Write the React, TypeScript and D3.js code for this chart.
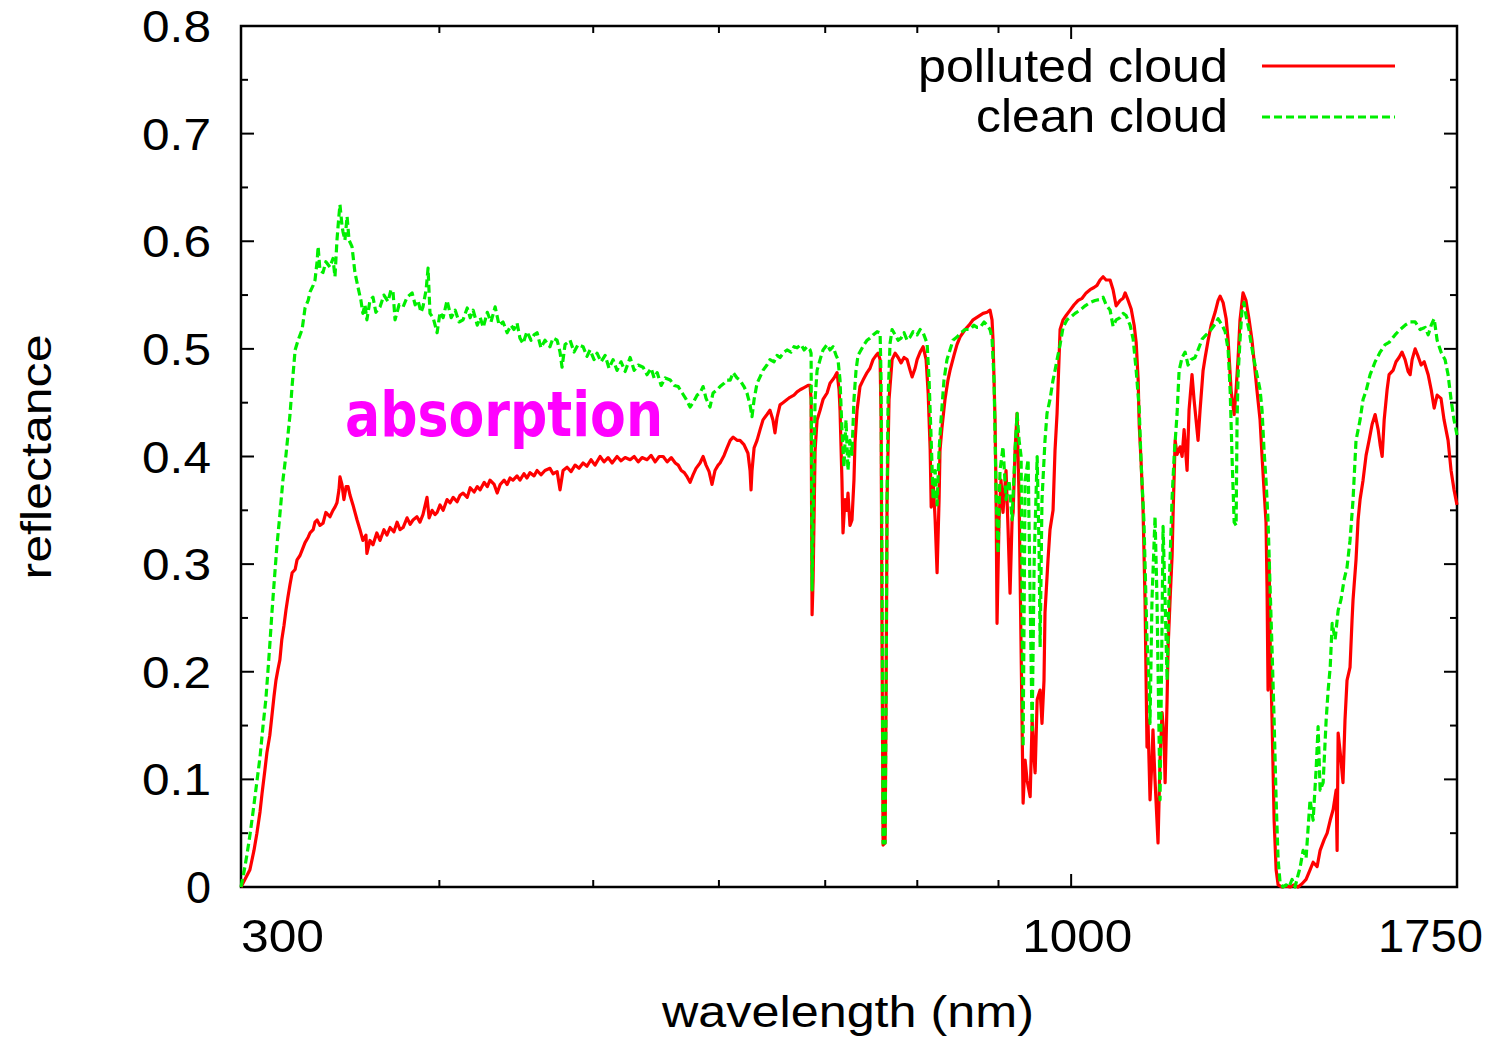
import React from "react";
import * as d3 from "d3";

// x: wavelength (nm), y: reflectance
const xMajorTicks = [300, 1000, 1750];
const xMinorTicks = [400, 500, 600, 700, 800, 900];
const yMajorTicks = [0, 0.1, 0.2, 0.3, 0.4, 0.5, 0.6, 0.7, 0.8];
const yMinorTicks = [0.05, 0.15, 0.25, 0.35, 0.45, 0.55, 0.65, 0.75];
const seriesNames = ["polluted cloud", "clean cloud"];
const annotation = "absorption";

const polluted: [number, number][] = [
  [300.0,0],[301.7,.007],[303.9,.016],[305.7,.034],[307.0,.050],[308.4,.070],[309.3,.087],[310.6,.109],[311.5,.125],[312.8,.141],[313.7,.158],[314.7,.177],[315.6,.192],[316.5,.202],[317.4,.211],[318.3,.230],[319.3,.243],[320.2,.257],[321.1,.269],[322.1,.281],[323.1,.292],[324.5,.295],[325.4,.304],[326.8,.308],[327.8,.313],[329.2,.320],[330.7,.325],[331.6,.329],[333.1,.332],[334.0,.339],[335.0,.341],[336.4,.336],[337.9,.338],[339.3,.348],[341.3,.344],[342.8,.350],[343.8,.353],[344.8,.357],[345.8,.369],[346.3,.381],[347.3,.374],[348.3,.360],[349.4,.372],[350.4,.372],[351.4,.364],[352.9,.355],[355.0,.341],[356.5,.332],[358.0,.322],[359.6,.327],[360.1,.310],[361.7,.322],[363.3,.318],[365.3,.329],[367.0,.322],[369.1,.332],[370.7,.327],[372.4,.334],[374.5,.330],[376.2,.339],[377.8,.332],[379.5,.334],[381.7,.343],[383.4,.337],[385.0,.341],[387.2,.344],[388.9,.339],[390.6,.346],[392.9,.362],[394.1,.343],[395.8,.350],[397.5,.346],[398.7,.348],[400.4,.355],[402.2,.350],[404.5,.360],[406.3,.357],[408.1,.362],[410.4,.358],[412.2,.364],[414.0,.366],[416.5,.362],[418.3,.371],[420.7,.367],[422.6,.372],[424.4,.369],[426.9,.376],[428.8,.372],[430.5,.378],[433.1,.374],[435.0,.366],[436.9,.374],[439.4,.378],[441.3,.374],[443.2,.380],[445.1,.378],[447.7,.382],[449.6,.378],[452.2,.384],[454.2,.380],[456.2,.385],[458.9,.382],[460.9,.387],[463.5,.383],[466.2,.387],[469.6,.389],[471.7,.384],[474.5,.386],[476.5,.369],[478.6,.387],[481.4,.390],[484.2,.386],[487.0,.392],[489.8,.389],[492.7,.394],[495.5,.391],[498.4,.397],[501.3,.392],[505.0,.400],[507.9,.395],[510.9,.399],[513.9,.394],[517.6,.400],[520.6,.396],[523.7,.399],[527.5,.397],[530.6,.400],[533.7,.395],[536.7,.399],[540.6,.397],[543.8,.401],[547.0,.395],[550.2,.400],[553.4,.400],[556.6,.395],[559.9,.399],[563.2,.394],[565.6,.392],[568.1,.387],[570.6,.385],[573.0,.381],[575.4,.376],[577.9,.383],[580.4,.389],[583.8,.394],[586.4,.400],[588.9,.392],[591.5,.386],[594.0,.374],[596.6,.387],[599.3,.392],[601.0,.394],[604.5,.401],[607.1,.408],[609.9,.415],[612.5,.418],[616.0,.415],[618.6,.415],[622.2,.411],[625.8,.403],[627.7,.387],[628.6,.369],[629.5,.387],[631.4,.408],[634.1,.415],[636.9,.425],[639.6,.434],[643.3,.439],[646.1,.443],[648.9,.434],[650.8,.422],[652.7,.436],[655.6,.448],[658.4,.450],[662.3,.453],[665.1,.455],[669.0,.457],[672.0,.460],[675.0,.462],[678.9,.464],[682.8,.466],[684.8,.466],[685.8,.453],[686.8,.253],[687.8,.285],[689.8,.406],[691.8,.434],[694.8,.443],[697.8,.453],[701.9,.459],[704.9,.468],[709.0,.473],[712.1,.478],[714.2,.462],[715.2,.443],[717.2,.378],[718.3,.329],[720.3,.360],[722.4,.350],[723.5,.366],[725.6,.336],[727.7,.341],[729.8,.378],[730.9,.413],[733.1,.443],[736.2,.465],[739.5,.471],[743.8,.478],[747.0,.482],[750.3,.490],[753.6,.494],[755.8,.496],[758.0,.490],[759.1,.434],[760.2,.220],[761.3,.039],[763.5,.041],[764.6,.174],[765.7,.360],[767.9,.453],[771.3,.490],[774.7,.496],[778.1,.492],[781.4,.487],[784.8,.492],[788.3,.490],[791.7,.480],[794.0,.474],[797.5,.482],[799.8,.490],[803.3,.497],[806.8,.502],[810.3,.490],[812.7,.459],[815.1,.406],[816.3,.353],[818.6,.378],[821.0,.341],[823.3,.292],[825.7,.360],[826.8,.406],[829.2,.427],[832.8,.453],[836.4,.471],[838.9,.480],[843.7,.494],[847.4,.504],[851.1,.511],[857.4,.518],[862.4,.522],[867.4,.527],[873.7,.530],[880.1,.533],[885.2,.534],[889.0,.536],[891.6,.527],[892.9,.508],[895.5,.434],[896.8,.366],[898.1,.245],[900.7,.341],[903.3,.378],[905.9,.348],[909.9,.387],[912.6,.332],[915.2,.273],[917.9,.341],[919.3,.348],[921.9,.406],[924.6,.440],[927.3,.360],[930.0,.220],[932.7,.078],[935.4,.118],[938.1,.099],[942.3,.084],[945.0,.155],[947.8,.118],[949.1,.106],[951.9,.174],[956.0,.183],[958.6,.152],[961.4,.192],[962.8,.255],[967.0,.304],[969.8,.332],[974.1,.350],[976.9,.406],[979.8,.440],[984.1,.518],[988.4,.527],[992.7,.531],[998.5,.536],[1004.3,.541],[1010.2,.545],[1016.0,.547],[1022.0,.552],[1027.8,.555],[1033.7,.557],[1038.2,.559],[1042.8,.564],[1047.4,.567],[1052.0,.564],[1058.1,.564],[1062.7,.555],[1067.4,.540],[1073.6,.545],[1078.3,.547],[1081.5,.552],[1086.2,.545],[1091.0,.537],[1095.7,.522],[1098.9,.506],[1102.1,.471],[1103.7,.430],[1106.6,.397],[1109.8,.354],[1113.1,.267],[1116.3,.130],[1117.9,.155],[1121.2,.081],[1124.4,.118],[1126.0,.146],[1129.4,.099],[1134.3,.041],[1137.6,.118],[1141.0,.162],[1144.3,.137],[1146.0,.097],[1149.3,.174],[1151.0,.223],[1154.3,.267],[1157.7,.308],[1159.4,.348],[1162.8,.415],[1166.1,.402],[1171.2,.409],[1174.6,.400],[1178.0,.425],[1183.1,.387],[1186.5,.443],[1191.6,.476],[1195.1,.453],[1198.6,.434],[1202.1,.415],[1205.6,.443],[1210.9,.480],[1214.5,.492],[1219.8,.508],[1225.1,.522],[1232.2,.534],[1237.6,.545],[1241.2,.549],[1246.6,.543],[1252.1,.528],[1255.7,.508],[1261.2,.461],[1266.7,.439],[1270.3,.462],[1274.0,.492],[1277.5,.527],[1283.1,.552],[1288.6,.545],[1294.2,.528],[1299.9,.508],[1305.6,.480],[1309.4,.461],[1315.2,.434],[1319.0,.400],[1322.8,.369],[1326.6,.339],[1328.6,.278],[1330.5,.183],[1332.5,.304],[1334.5,.230],[1338.3,.155],[1342.3,.062],[1346.2,.016],[1350.1,.002],[1357.9,0],[1365.8,.001],[1373.7,0],[1381.6,.002],[1389.7,0],[1397.8,.003],[1406.0,.007],[1414.1,.016],[1420.4,.023],[1428.7,.019],[1434.9,.034],[1443.3,.044],[1449.6,.050],[1456.0,.062],[1462.3,.072],[1468.6,.090],[1470.7,.034],[1472.9,.143],[1479.0,.118],[1483.3,.097],[1487.6,.155],[1492.0,.192],[1498.5,.204],[1502.9,.248],[1505.1,.267],[1511.6,.304],[1516.1,.341],[1520.5,.360],[1527.1,.378],[1533.8,.401],[1540.5,.415],[1547.3,.430],[1554.1,.439],[1560.9,.425],[1565.4,.411],[1570.0,.400],[1574.6,.434],[1581.3,.462],[1585.8,.476],[1595.0,.480],[1601.9,.488],[1608.9,.492],[1615.9,.497],[1623.1,.490],[1630.2,.479],[1635.0,.476],[1639.7,.490],[1646.9,.500],[1654.1,.493],[1661.3,.485],[1668.6,.488],[1678.4,.476],[1685.7,.462],[1693.0,.445],[1700.3,.457],[1709.9,.454],[1717.5,.434],[1727.5,.415],[1735.0,.387],[1742.5,.369],[1750.0,.355]
];

const clean: [number, number][] = [
  [300.0,0],[301.3,.014],[302.6,.030],[303.9,.048],[305.3,.070],[307.0,.098],[308.4,.121],[309.7,.149],[311.0,.174],[311.9,.199],[312.8,.225],[313.7,.253],[314.7,.281],[316.0,.316],[317.4,.346],[318.8,.378],[320.2,.401],[322.1,.439],[323.1,.466],[324.5,.499],[325.9,.508],[327.8,.518],[329.2,.538],[330.7,.545],[331.6,.553],[333.1,.559],[334.0,.564],[335.0,.581],[335.5,.595],[336.4,.573],[337.9,.571],[339.3,.581],[341.3,.576],[342.8,.584],[343.8,.567],[344.8,.601],[345.8,.624],[346.3,.634],[347.3,.615],[347.8,.609],[348.8,.601],[349.9,.623],[350.9,.601],[352.4,.595],[353.9,.571],[355.5,.557],[357.0,.545],[358.0,.533],[359.1,.541],[360.1,.527],[361.7,.545],[363.3,.548],[364.8,.534],[367.0,.539],[369.1,.550],[371.3,.544],[372.9,.555],[374.0,.553],[375.1,.527],[377.3,.541],[379.5,.539],[381.7,.548],[384.5,.552],[386.2,.541],[387.8,.545],[389.5,.534],[390.6,.539],[392.4,.555],[393.5,.575],[394.6,.533],[396.4,.529],[398.7,.515],[400.4,.534],[402.2,.529],[404.5,.545],[406.9,.529],[409.3,.536],[411.6,.525],[414.0,.527],[416.5,.538],[418.3,.529],[420.1,.536],[422.6,.522],[424.4,.529],[426.3,.520],[428.8,.534],[431.1,.525],[433.7,.539],[436.2,.522],[438.7,.525],[441.3,.515],[443.8,.522],[445.7,.518],[447.7,.524],[449.6,.510],[451.6,.505],[454.2,.516],[456.9,.508],[458.9,.513],[460.9,.515],[463.5,.501],[466.2,.508],[469.6,.502],[471.7,.510],[474.5,.508],[476.5,.497],[477.9,.483],[480.0,.504],[483.5,.508],[486.3,.497],[489.1,.504],[492.7,.502],[495.5,.493],[497.7,.499],[500.6,.490],[502.8,.496],[505.7,.488],[508.7,.494],[511.6,.482],[514.6,.490],[517.6,.480],[520.6,.488],[523.7,.479],[527.5,.492],[530.6,.480],[533.7,.485],[537.5,.483],[540.6,.476],[543.8,.482],[546.2,.473],[548.6,.478],[551.8,.466],[555.0,.473],[559.1,.471],[562.4,.466],[565.6,.465],[568.9,.459],[572.2,.453],[575.4,.446],[577.9,.450],[581.3,.457],[583.8,.459],[586.4,.465],[588.9,.454],[592.3,.446],[594.9,.459],[598.4,.462],[601.0,.465],[604.5,.468],[607.1,.471],[609.9,.471],[612.5,.478],[616.0,.473],[618.6,.471],[622.2,.465],[624.9,.459],[627.7,.448],[629.5,.437],[631.4,.453],[634.1,.468],[636.9,.474],[639.6,.480],[643.3,.485],[646.1,.490],[649.9,.488],[652.7,.494],[655.6,.492],[659.4,.497],[662.3,.499],[666.1,.497],[669.0,.502],[672.0,.501],[675.9,.504],[678.9,.499],[681.8,.502],[684.8,.499],[685.8,.496],[686.8,.276],[687.8,.341],[689.8,.453],[691.8,.480],[694.8,.490],[697.8,.499],[701.9,.504],[704.9,.499],[708.0,.502],[711.1,.494],[713.1,.490],[715.2,.471],[717.2,.425],[719.3,.390],[721.4,.434],[723.5,.387],[725.6,.415],[727.7,.402],[729.8,.453],[732.0,.480],[734.1,.494],[737.3,.499],[740.6,.504],[743.8,.508],[747.0,.510],[750.3,.513],[754.7,.516],[758.0,.515],[759.1,.471],[760.2,.267],[761.3,.041],[763.5,.041],[764.6,.174],[765.7,.360],[766.8,.453],[769.0,.505],[771.3,.518],[774.7,.513],[778.1,.508],[781.4,.510],[784.8,.515],[788.3,.508],[791.7,.511],[795.2,.516],[799.8,.513],[803.3,.518],[806.8,.515],[811.5,.505],[813.8,.471],[816.3,.415],[818.6,.360],[821.0,.387],[823.3,.355],[825.7,.406],[828.0,.434],[831.6,.471],[835.2,.490],[838.9,.499],[842.5,.508],[847.4,.511],[852.4,.515],[857.4,.518],[863.6,.518],[868.6,.522],[872.4,.520],[876.3,.520],[881.4,.525],[885.2,.522],[889.0,.518],[891.6,.510],[894.2,.471],[896.8,.366],[899.4,.310],[902.0,.387],[905.9,.409],[909.9,.360],[913.9,.378],[917.9,.341],[921.9,.406],[924.6,.440],[927.3,.415],[930.0,.400],[932.7,.130],[935.4,.378],[939.5,.397],[942.3,.267],[945.0,.146],[947.8,.304],[951.9,.400],[954.6,.313],[956.0,.223],[958.6,.360],[962.8,.415],[965.6,.440],[969.8,.453],[974.1,.471],[976.9,.480],[979.8,.490],[984.1,.504],[988.4,.520],[994.1,.527],[998.5,.529],[1005.7,.533],[1013.1,.536],[1020.5,.540],[1027.8,.543],[1035.2,.545],[1042.8,.546],[1047.4,.548],[1052.0,.541],[1058.1,.536],[1062.7,.521],[1067.4,.527],[1073.6,.529],[1078.3,.533],[1083.0,.531],[1089.3,.522],[1094.1,.509],[1098.9,.480],[1103.7,.445],[1106.6,.397],[1111.4,.339],[1116.3,.230],[1119.5,.192],[1121.2,.152],[1124.4,.267],[1129.4,.344],[1132.6,.267],[1137.6,.081],[1141.0,.248],[1142.6,.335],[1146.0,.267],[1149.3,.192],[1152.7,.278],[1157.7,.362],[1161.1,.400],[1166.1,.440],[1169.5,.480],[1174.6,.492],[1179.7,.497],[1184.8,.485],[1189.9,.490],[1196.9,.492],[1202.1,.499],[1209.2,.509],[1216.2,.513],[1225.1,.518],[1232.2,.523],[1237.6,.528],[1244.8,.522],[1250.3,.516],[1255.7,.499],[1259.4,.461],[1263.0,.397],[1266.7,.339],[1270.3,.336],[1272.1,.434],[1274.0,.476],[1277.5,.508],[1281.2,.536],[1284.9,.543],[1288.6,.531],[1294.2,.518],[1298.0,.506],[1303.7,.490],[1309.4,.476],[1315.2,.462],[1319.0,.443],[1322.8,.406],[1326.6,.378],[1330.5,.341],[1334.5,.278],[1338.3,.220],[1342.3,.155],[1346.2,.081],[1350.1,.025],[1354.0,.004],[1359.9,0],[1365.8,.002],[1371.7,0],[1377.6,.007],[1383.6,0],[1389.7,.011],[1393.8,.018],[1399.9,.034],[1406.0,.027],[1414.1,.081],[1420.4,.062],[1426.6,.109],[1430.7,.149],[1434.9,.090],[1441.2,.097],[1447.5,.155],[1451.7,.183],[1456.0,.204],[1460.2,.245],[1466.5,.230],[1472.9,.257],[1479.0,.267],[1485.5,.285],[1492.0,.297],[1498.5,.322],[1505.1,.360],[1511.6,.415],[1520.5,.434],[1527.1,.453],[1533.8,.461],[1542.8,.476],[1554.1,.488],[1565.4,.497],[1576.8,.504],[1585.8,.506],[1599.6,.513],[1611.4,.518],[1623.1,.522],[1635.0,.525],[1646.9,.525],[1658.9,.518],[1671.1,.520],[1678.4,.513],[1685.7,.522],[1693.0,.528],[1700.3,.508],[1709.9,.497],[1720.0,.490],[1727.5,.476],[1735.0,.453],[1742.5,.434],[1750.0,.420]
];

const FONT = "'Liberation Sans', Arial, Helvetica, sans-serif";
const RED = "#ff0000";
const GREEN = "#00ee00";

export default function App() {
  const W = 1493, H = 1039;
  const left = 241, right = 1457, top = 26, bottom = 887;
  const x = d3.scaleLog().domain([300, 1750]).range([left, right]);
  const y = d3.scaleLinear().domain([0, 0.8]).range([bottom, top]);
  const line = d3.line<[number, number]>().x(d => x(d[0])).y(d => y(d[1]));
  const major = 13, minor = 7;

  const xLabelAnchor = (v: number) => (v === 300 ? "start" : v === 1750 ? "end" : "middle");
  const xLabelPos = (v: number) => (v === 300 ? x(v) : v === 1750 ? x(v) + 26 : x(v) + 6);
  const xLabelLen = (v: number) => (v === 300 ? 83 : v === 1750 ? 105 : 110);

  return (
    <svg width={W} height={H} style={{ position: "absolute", left: 0, top: 0, background: "#fff" }}
      fontFamily={FONT}>
      <rect x={0} y={0} width={W} height={H} fill="#fff" />
      {/* ticks */}
      <g stroke="#000" strokeWidth={2}>
        {yMajorTicks.map(v => (
          <g key={"ym" + v}>
            <line x1={left} x2={left + major} y1={y(v)} y2={y(v)} />
            <line x1={right} x2={right - major} y1={y(v)} y2={y(v)} />
          </g>
        ))}
        {yMinorTicks.map(v => (
          <g key={"yn" + v}>
            <line x1={left} x2={left + minor} y1={y(v)} y2={y(v)} />
            <line x1={right} x2={right - minor} y1={y(v)} y2={y(v)} />
          </g>
        ))}
        {xMajorTicks.map(v => (
          <g key={"xm" + v}>
            <line x1={x(v)} x2={x(v)} y1={bottom} y2={bottom - major} />
            <line x1={x(v)} x2={x(v)} y1={top} y2={top + major} />
          </g>
        ))}
        {xMinorTicks.map(v => (
          <g key={"xn" + v}>
            <line x1={x(v)} x2={x(v)} y1={bottom} y2={bottom - minor} />
            <line x1={x(v)} x2={x(v)} y1={top} y2={top + minor} />
          </g>
        ))}
      </g>
      <rect x={left} y={top} width={right - left} height={bottom - top} fill="none" stroke="#000" strokeWidth={2.5} />

      {/* y tick labels */}
      {yMajorTicks.map(v => {
        const s = v === 0 ? "0" : d3.format(".1f")(v);
        return (
          <text key={"yl" + v} x={211} y={y(v) + 16} fontSize={45} textAnchor="end"
            textLength={s.length > 1 ? 69 : undefined} lengthAdjust="spacingAndGlyphs">{s}</text>
        );
      })}
      {/* x tick labels */}
      {xMajorTicks.map(v => (
        <text key={"xl" + v} x={xLabelPos(v)} y={952} fontSize={47} textAnchor={xLabelAnchor(v)}
          textLength={xLabelLen(v)} lengthAdjust="spacingAndGlyphs">{String(v)}</text>
      ))}

      {/* axis titles */}
      <text x={848} y={1027} fontSize={45} textAnchor="middle" textLength={372} lengthAdjust="spacingAndGlyphs">
        wavelength (nm)
      </text>
      <text transform={`translate(51,457) rotate(-90)`} fontSize={43} textAnchor="middle"
        textLength={245} lengthAdjust="spacingAndGlyphs">reflectance</text>

      {/* data */}
      <path d={line(polluted) || ""} fill="none" stroke={RED} strokeWidth={3.2} strokeLinejoin="round" />
      <path d={line(clean) || ""} fill="none" stroke={GREEN} strokeWidth={3.2} strokeDasharray="8,4" strokeLinejoin="round" />

      {/* annotation */}
      <text x={345} y={436} fontSize={62} fontWeight="bold" fill="#ff00ff"
        fontFamily="'Comic Sans MS', 'DejaVu Sans', sans-serif" textLength={318} lengthAdjust="spacingAndGlyphs">
        {annotation}
      </text>

      {/* legend */}
      <text x={1228} y={82} fontSize={47} textAnchor="end" textLength={310} lengthAdjust="spacingAndGlyphs">{seriesNames[0]}</text>
      <line x1={1262} x2={1395} y1={66} y2={66} stroke={RED} strokeWidth={3} />
      <text x={1228} y={132} fontSize={47} textAnchor="end" textLength={252} lengthAdjust="spacingAndGlyphs">{seriesNames[1]}</text>
      <line x1={1262} x2={1395} y1={117} y2={117} stroke={GREEN} strokeWidth={3} strokeDasharray="8,4" />
    </svg>
  );
}
